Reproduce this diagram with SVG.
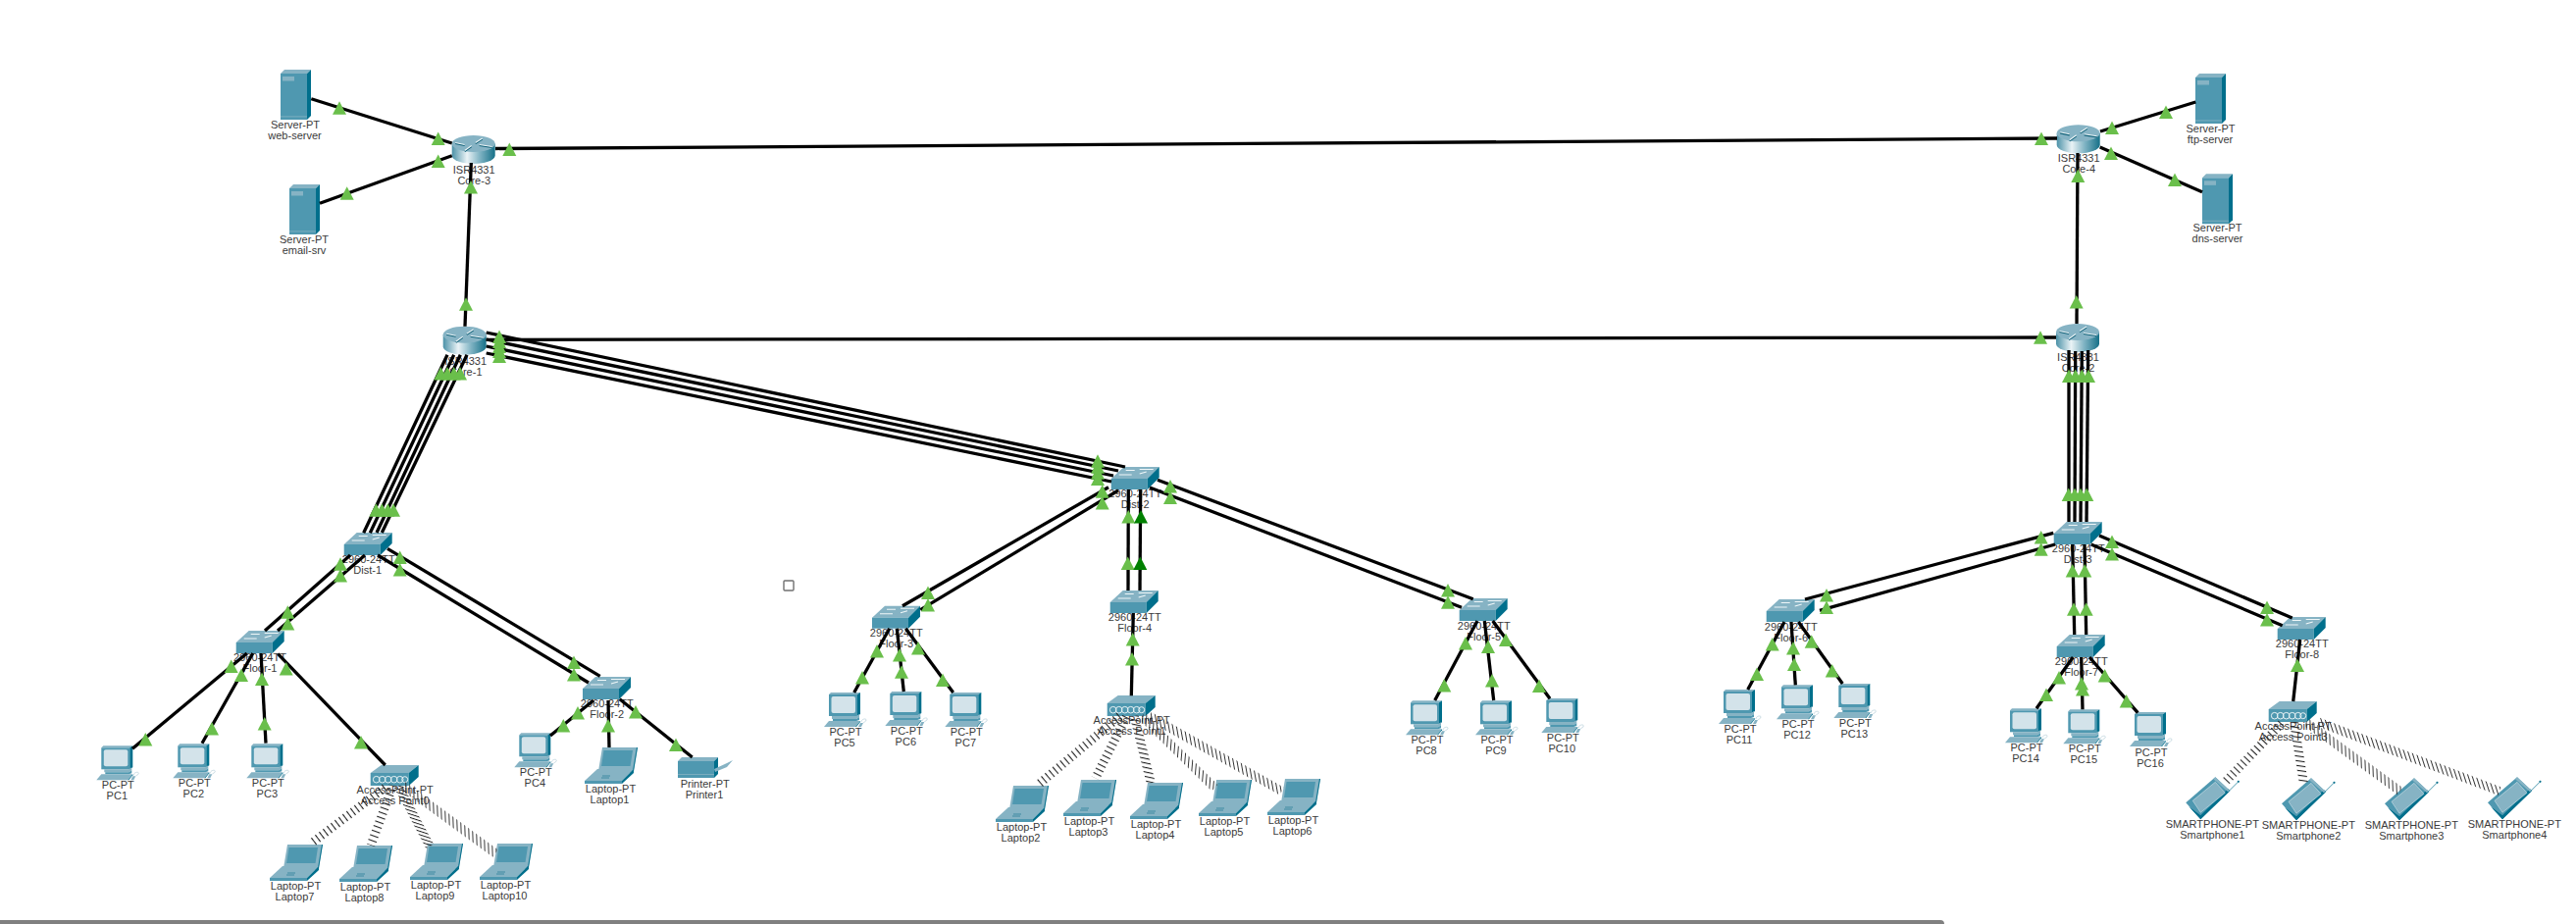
<svg xmlns="http://www.w3.org/2000/svg" xmlns:xlink="http://www.w3.org/1999/xlink" width="2626" height="942" viewBox="0 0 2626 942">
<style>
text{font-family:"Liberation Sans",Arial,sans-serif;font-size:11px;fill:#3a3a3a;text-anchor:middle}
.l{stroke:#000;stroke-width:3.3;fill:none}
.w{stroke-width:9;fill:none}
.top{fill:#86b3c4}.front{fill:#4f98b0}.side{fill:#006f8c}.pale{fill:#d3e3ea}
.wh{stroke:#eef6f8;stroke-width:1.1;fill:none}
.st{fill:#222}
.tri{fill:#6abf4b}.dk{fill:#008000}
</style>
<defs>
<linearGradient id="cyl" x1="0" x2="1" y1="0" y2="0"><stop offset="0" stop-color="#4c92a8"/><stop offset=".35" stop-color="#eaf3f6"/><stop offset=".65" stop-color="#7fb3c3"/><stop offset="1" stop-color="#167088"/></linearGradient>
<pattern id="w53" width="10" height="5" patternUnits="userSpaceOnUse" patternTransform="rotate(53)"><rect class="st" width="10" height="1.1"/></pattern>
<pattern id="w20" width="10" height="5" patternUnits="userSpaceOnUse" patternTransform="rotate(20)"><rect class="st" width="10" height="1.1"/></pattern>
<pattern id="w25" width="10" height="3.4" patternUnits="userSpaceOnUse" patternTransform="rotate(18)"><rect class="st" width="10" height="1"/></pattern>
<pattern id="w70" width="10" height="3.9" patternUnits="userSpaceOnUse" patternTransform="rotate(88)"><rect class="st" width="10" height=".9"/></pattern>
<pattern id="w50" width="10" height="5" patternUnits="userSpaceOnUse" patternTransform="rotate(50)"><rect class="st" width="10" height="1.1"/></pattern>
<pattern id="w27" width="10" height="5" patternUnits="userSpaceOnUse" patternTransform="rotate(27)"><rect class="st" width="10" height="1.1"/></pattern>
<pattern id="w12" width="10" height="4.5" patternUnits="userSpaceOnUse" patternTransform="rotate(12)"><rect class="st" width="10" height="1.1"/></pattern>
<pattern id="w78" width="10" height="3.9" patternUnits="userSpaceOnUse" patternTransform="rotate(95)"><rect class="st" width="10" height=".9"/></pattern>
<pattern id="w65" width="10" height="3.9" patternUnits="userSpaceOnUse" patternTransform="rotate(80)"><rect class="st" width="10" height=".9"/></pattern>
<pattern id="w44" width="10" height="5" patternUnits="userSpaceOnUse" patternTransform="rotate(44)"><rect class="st" width="10" height="1.1"/></pattern>
<pattern id="w8" width="10" height="4.8" patternUnits="userSpaceOnUse" patternTransform="rotate(8)"><rect class="st" width="10" height="1.1"/></pattern>
<pattern id="w68" width="10" height="3.9" patternUnits="userSpaceOnUse" patternTransform="rotate(72)"><rect class="st" width="10" height=".9"/></pattern>
<polygon id="t" points="0,-6.7 7,6.7 -7,6.7"/>
<g id="server">
<polygon class="top" points="0,4 4,0 31,0 27,4"/><rect class="front" y="4" width="27" height="47"/><polygon class="side" points="27,4 31,0 31,47 27,51"/><rect class="top" x="2" y="7" width="12" height="4.5"/><rect class="top" y="47.5" width="27" height=".8"/>
</g>
<g id="router">
<path d="M0 8.5V20.5A22 8.5 0 0 0 44 20.5V8.5Z" fill="url(#cyl)"/><ellipse class="top" cx="22" cy="8.5" rx="22" ry="8.5"/>
<path d="M3.5 7.5L13 9.5M28 9.5L41 11.5M24 7.5L31 3M13 15.5L20 10.5" stroke="#0d5f77" stroke-width="1.6" fill="none" transform="translate(0,.8)"/>
<path class="wh" d="M3.5 7.5L13 9.5M28 9.5L41 11.5M24 7.5L31 3M13 15.5L20 10.5"/>
</g>
<g id="switch">
<polygon class="top" points="0,12 13,0 49,0 37,12"/><rect class="front" y="12" width="37" height="11"/><polygon class="side" points="37,12 49,0 49,11 37,23"/>
<path class="wh" d="M15 3.5H24M29 2.5H43M8 8H21M29 7L36 5"/>
</g>
<g id="ap">
<polygon class="top" points="0,8 11,0 49,0 39,8"/><rect class="front" y="8" width="39" height="13"/><polygon class="side" points="39,8 49,0 49,12 39,21"/>
<g fill="none" stroke="#e8f3f6" stroke-width="1"><circle cx="6" cy="14.7" r="3.3"/><circle cx="12" cy="14.7" r="3.3"/><circle cx="18" cy="14.7" r="3.3"/><circle cx="24" cy="14.7" r="3.3"/><circle cx="30" cy="14.7" r="3.3"/><circle cx="35" cy="14.7" r="3"/></g>
</g>
<g id="pc">
<polygon class="top" points="5,2 7,0 37,0 34,2"/><rect class="front" x="5" y="2" width="29" height="22"/><polygon class="side" points="34,2 37,0 37,22 34,24"/><rect class="pale" x="7.5" y="4" width="24.5" height="17" rx="2"/>
<polygon class="top" points="8,24 33,24 36,22 36,25 33,27 8,27"/><polygon class="front" points="9,27 33,27 36,25 36,28 33,29 9,29"/>
<polygon class="top" points="0,35 5,29 37,29 32,35"/><polygon class="side" points="32,35 37,29 37,30 33,35"/>
<polygon class="top" points="35,35 37,31 40,31 38,35"/><path d="M38 30C38 27 43 26 43 28C43 30 40 30 40 31" fill="none" stroke="#bcd3dc" stroke-width=".8"/>
</g>
<g id="laptop">
<polygon class="top" points="18,0 54,0 50,24 14,24"/><polygon class="side" points="53,0 54,0 50,24 49,24"/><polygon class="front" points="19.5,3 49,3 46.5,19 17,19"/>
<polygon class="top" points="0,34 13,22 50,22 38,34"/><rect class="top" x="14" y="23" width="34" height="3" opacity=".8"/><path d="M18 29H26M17 31H25" stroke="#3f8aa2" stroke-width="1"/>
<polygon class="front" points="0,34 38,34 38,37 0,37"/><polygon class="side" points="38,34 50,22 50,26 38,37"/>
</g>
<g id="printer">
<polygon class="top" points="0,4 4,0 41,0 37,4"/><rect class="front" y="4" width="37" height="17"/><polygon class="side" points="37,4 41,0 41,17 37,21"/><polygon class="top" points="37,12 50,6 56,3 50,10 38,15"/><rect class="top" y="17" width="37" height=".8"/>
</g>
<g id="phone">
<polygon class="front" points="0,26 30,0 45,14 15,43"/><polygon class="side" points="3,30 15,43 45,14 43,12 15,39"/><polygon class="top" points="30,0 45,14 43,15 28,2"/>
<polygon class="top" points="7,24 30,5 40,16 15,36" stroke="#cfe1e8" stroke-width=".6"/>
<path d="M44 14L53 5" stroke="#1f7f99" stroke-width=".8"/><circle cx="53.5" cy="4.5" r="1.1" fill="#006f8c"/>
</g>
</defs>

<g id="web-server" transform="translate(286,71)"><use href="#server"/><text x="15" y="60">Server-PT</text><text x="14.5" y="71">web-server</text></g>
<g id="email-srv" transform="translate(295,188)"><use href="#server"/><text x="15" y="60">Server-PT</text><text x="15" y="71">email-srv</text></g>
<g id="ftp-server" transform="translate(2238,75)"><use href="#server"/><text x="15.5" y="59.5">Server-PT</text><text x="15" y="70.5">ftp-server</text></g>
<g id="dns-server" transform="translate(2245,177.3)"><use href="#server"/><text x="15.5" y="59">Server-PT</text><text x="15.5" y="70">dns-server</text></g>

<g id="core-3" transform="translate(460.7,138)"><use href="#router"/><text x="22.5" y="39">ISR4331</text><text x="22.5" y="50">Core-3</text></g>
<g id="core-1" transform="translate(451.7,332.7)"><use href="#router"/><text x="23" y="39">ISR4331</text><text x="23" y="50">Core-1</text></g>
<g id="core-4" transform="translate(2096.7,127.3)"><use href="#router"/><text x="22.5" y="38">ISR4331</text><text x="22.5" y="49">Core-4</text></g>
<g id="core-2" transform="translate(2096,330)"><use href="#router"/><text x="22.5" y="38">ISR4331</text><text x="22.5" y="49">Core-2</text></g>

<g id="dist-1" transform="translate(350.7,543)"><use href="#switch"/><text x="25" y="31.3">2960-24TT</text><text x="24" y="42.3">Dist-1</text></g>
<g id="dist-2" transform="translate(1132.7,476)"><use href="#switch"/><text x="24.5" y="31">2960-24TT</text><text x="24.5" y="42">Dist-2</text></g>
<g id="dist-3" transform="translate(2093.7,532)"><use href="#switch"/><text x="25" y="31.3">2960-24TT</text><text x="24.5" y="42.3">Dist-3</text></g>
<g id="floor-1" transform="translate(240.7,643)"><use href="#switch"/><text x="24.3" y="31.3">2960-24TT</text><text x="24.3" y="42.3">Floor-1</text></g>
<g id="floor-2" transform="translate(594,690)"><use href="#switch"/><text x="24.7" y="31.3">2960-24TT</text><text x="24.7" y="42.3">Floor-2</text></g>
<g id="floor-3" transform="translate(889,617.7)"><use href="#switch"/><text x="24.7" y="31.6">2960-24TT</text><text x="24.7" y="42.6">Floor-3</text></g>
<g id="floor-4" transform="translate(1131.7,602)"><use href="#switch"/><text x="25" y="31">2960-24TT</text><text x="25" y="42">Floor-4</text></g>
<g id="floor-5" transform="translate(1487.7,610)"><use href="#switch"/><text x="25" y="31.7">2960-24TT</text><text x="25" y="42.7">Floor-5</text></g>
<g id="floor-6" transform="translate(1800.7,611)"><use href="#switch"/><text x="25" y="31.7">2960-24TT</text><text x="25" y="42.7">Floor-6</text></g>
<g id="floor-7" transform="translate(2096.7,647)"><use href="#switch"/><text x="25" y="31.3">2960-24TT</text><text x="25" y="42.3">Floor-7</text></g>
<g id="floor-8" transform="translate(2321.7,629)"><use href="#switch"/><text x="25" y="31.3">2960-24TT</text><text x="25" y="42.3">Floor-8</text></g>

<g id="access-point0" transform="translate(377.7,780)"><use href="#ap"/><text x="25" y="29.3">AccessPoint-PT</text><text x="25" y="40.3">Access Point0</text></g>
<g id="access-point1" transform="translate(1128.7,709)"><use href="#ap"/><text x="25" y="29.3">AccessPoint-PT</text><text x="25" y="40.3">Access Point1</text></g>
<g id="access-point3" transform="translate(2312.7,715)"><use href="#ap"/><text x="25" y="29.3">AccessPoint-PT</text><text x="25" y="40.3">Access Point3</text></g>

<g id="pc1" transform="translate(98.3,760.3)"><use href="#pc"/><text x="22" y="44">PC-PT</text><text x="21" y="55">PC1</text></g>
<g id="pc2" transform="translate(176.3,758.3)"><use href="#pc"/><text x="22" y="44">PC-PT</text><text x="21" y="55">PC2</text></g>
<g id="pc3" transform="translate(251.3,758.3)"><use href="#pc"/><text x="22" y="44">PC-PT</text><text x="21" y="55">PC3</text></g>
<g id="pc4" transform="translate(524.3,747.3)"><use href="#pc"/><text x="22" y="44">PC-PT</text><text x="21" y="55">PC4</text></g>
<g id="pc5" transform="translate(840,706)"><use href="#pc"/><text x="22" y="44">PC-PT</text><text x="21" y="55">PC5</text></g>
<g id="pc6" transform="translate(902.3,705)"><use href="#pc"/><text x="22" y="44">PC-PT</text><text x="21" y="55">PC6</text></g>
<g id="pc7" transform="translate(963.3,706)"><use href="#pc"/><text x="22" y="44">PC-PT</text><text x="21" y="55">PC7</text></g>
<g id="pc8" transform="translate(1433,714.3)"><use href="#pc"/><text x="22" y="44">PC-PT</text><text x="21" y="55">PC8</text></g>
<g id="pc9" transform="translate(1504,714.3)"><use href="#pc"/><text x="22" y="44">PC-PT</text><text x="21" y="55">PC9</text></g>
<g id="pc10" transform="translate(1571.3,712)"><use href="#pc"/><text x="22" y="44">PC-PT</text><text x="21" y="55">PC10</text></g>
<g id="pc11" transform="translate(1752,703)"><use href="#pc"/><text x="22" y="44">PC-PT</text><text x="21" y="55">PC11</text></g>
<g id="pc12" transform="translate(1811,698.3)"><use href="#pc"/><text x="22" y="44">PC-PT</text><text x="21" y="55">PC12</text></g>
<g id="pc13" transform="translate(1869.3,697)"><use href="#pc"/><text x="22" y="44">PC-PT</text><text x="21" y="55">PC13</text></g>
<g id="pc14" transform="translate(2044,722.3)"><use href="#pc"/><text x="22" y="44">PC-PT</text><text x="21" y="55">PC14</text></g>
<g id="pc15" transform="translate(2103.3,723.3)"><use href="#pc"/><text x="22" y="44">PC-PT</text><text x="21" y="55">PC15</text></g>
<g id="pc16" transform="translate(2171,726)"><use href="#pc"/><text x="22" y="45">PC-PT</text><text x="21" y="56">PC16</text></g>

<g id="laptop1" transform="translate(596,762)"><use href="#laptop"/><text x="26.5" y="45.7">Laptop-PT</text><text x="25.5" y="56.7">Laptop1</text></g>
<g id="laptop2" transform="translate(1015,801)"><use href="#laptop"/><text x="26.5" y="45.7">Laptop-PT</text><text x="25.5" y="56.7">Laptop2</text></g>
<g id="laptop3" transform="translate(1084,795)"><use href="#laptop"/><text x="26.5" y="45.7">Laptop-PT</text><text x="25.5" y="56.7">Laptop3</text></g>
<g id="laptop4" transform="translate(1152,798)"><use href="#laptop"/><text x="26.5" y="45.7">Laptop-PT</text><text x="25.5" y="56.7">Laptop4</text></g>
<g id="laptop5" transform="translate(1222,795)"><use href="#laptop"/><text x="26.5" y="45.7">Laptop-PT</text><text x="25.5" y="56.7">Laptop5</text></g>
<g id="laptop6" transform="translate(1292,794)"><use href="#laptop"/><text x="26.5" y="45.7">Laptop-PT</text><text x="25.5" y="56.7">Laptop6</text></g>
<g id="laptop7" transform="translate(275,861)"><use href="#laptop"/><text x="26.5" y="45.7">Laptop-PT</text><text x="25.5" y="56.7">Laptop7</text></g>
<g id="laptop8" transform="translate(346,862)"><use href="#laptop"/><text x="26.5" y="45.7">Laptop-PT</text><text x="25.5" y="56.7">Laptop8</text></g>
<g id="laptop9" transform="translate(418,860)"><use href="#laptop"/><text x="26.5" y="45.7">Laptop-PT</text><text x="25.5" y="56.7">Laptop9</text></g>
<g id="laptop10" transform="translate(489,860)"><use href="#laptop"/><text x="26.5" y="45.7">Laptop-PT</text><text x="25.5" y="56.7">Laptop10</text></g>

<g id="printer1" transform="translate(691,772)"><use href="#printer"/><text x="27.7" y="30.7">Printer-PT</text><text x="27" y="41.7">Printer1</text></g>

<g id="smartphone1" transform="translate(2228.3,792.3)"><use href="#phone"/><text x="27" y="51.5">SMARTPHONE-PT</text><text x="27" y="62.5">Smartphone1</text></g>
<g id="smartphone2" transform="translate(2326,793.3)"><use href="#phone"/><text x="27.3" y="51.5">SMARTPHONE-PT</text><text x="27.3" y="62.5">Smartphone2</text></g>
<g id="smartphone3" transform="translate(2431,793.3)"><use href="#phone"/><text x="27.3" y="51.5">SMARTPHONE-PT</text><text x="27.3" y="62.5">Smartphone3</text></g>
<g id="smartphone4" transform="translate(2536,792.3)"><use href="#phone"/><text x="27.3" y="51.5">SMARTPHONE-PT</text><text x="27.3" y="62.5">Smartphone4</text></g>

<g id="connectors">
<g class="l">
<path d="M317.3 100.7L460.7 146"/>
<path d="M326 207.3L460.7 158.7"/>
<path d="M505 151.5L2097 141"/>
<path d="M480.3 166L474 332.7"/>
<path d="M495.7 346.3L2096 344"/>
<path d="M495.7 339L1147 476"/>
<path d="M495.7 346L1140 480"/>
<path d="M495.7 353L1135 485"/>
<path d="M495.7 360L1133 491"/>
<path d="M456 361.7L370.7 543.3"/>
<path d="M462.7 361.7L377.3 543.3"/>
<path d="M469.3 361.7L384 543"/>
<path d="M476 361.7L389.3 543"/>
<path d="M357 566L270 643"/>
<path d="M372 566L283 643"/>
<path d="M395 559.3L611.7 689.3"/>
<path d="M385 566L600 696"/>
<path d="M135 763.3L251.7 666"/>
<path d="M206 757.7L257.7 666"/>
<path d="M271 757.7L266 666"/>
<path d="M392.7 780L283.3 666.7"/>
<path d="M561 750L605 714"/>
<path d="M621 762L620 714"/>
<path d="M705.7 772L631.7 712.7"/>
<path d="M1130 496.7L920 617.7"/>
<path d="M1140 500L938.3 621.7"/>
<path d="M1150.3 499L1150 602"/>
<path d="M1162.7 499L1162 602"/>
<path d="M1155.3 625L1153.3 709.3"/>
<path d="M1180 489.3L1501.7 610.7"/>
<path d="M1172 497L1490 619.3"/>
<path d="M870.7 706L906.7 640.7"/>
<path d="M921.3 705L914.3 640.7"/>
<path d="M971.7 706L923.3 640.7"/>
<path d="M1462.7 714L1506 633"/>
<path d="M1522.7 714L1513.3 633"/>
<path d="M1580 712.3L1521.7 633"/>
<path d="M2118 156L2117 330"/>
<path d="M2141 134L2238.3 104"/>
<path d="M2140.7 150L2245 195.7"/>
<path d="M2109 357L2109 532"/>
<path d="M2115.7 358L2115 532"/>
<path d="M2122.3 358L2121 532"/>
<path d="M2128.7 357L2127 532"/>
<path d="M2093.3 543.3L1840 611"/>
<path d="M2095 555L1855 622.3"/>
<path d="M2112.7 555L2114.7 647"/>
<path d="M2125 555L2126.7 647"/>
<path d="M2140 546L2336.7 630"/>
<path d="M2131.7 555L2326.7 637.7"/>
<path d="M2344.7 652L2337.7 715"/>
<path d="M1781.7 703L1819 634"/>
<path d="M1830.3 698.3L1826 634"/>
<path d="M1878.3 697L1833.3 634"/>
<path d="M2076 722.3L2113.3 670"/>
<path d="M2123 723.3L2121.7 670"/>
<path d="M2179.3 726.7L2130 670"/>
</g>
<g class="w">
<path stroke="url(#w53)" d="M394.8 801L317 860"/>
<path stroke="url(#w20)" d="M400.5 801L378 861.7"/>
<path stroke="url(#w25)" d="M405.8 801L438.3 863"/>
<path stroke="url(#w70)" d="M410.9 801L505 870"/>
<path stroke="url(#w50)" d="M1141.8 730L1058.3 800"/>
<path stroke="url(#w27)" d="M1148.7 730L1116.7 793.3"/>
<path stroke="url(#w12)" d="M1156.2 730L1173.3 798.3"/>
<path stroke="url(#w78)" d="M1163.9 730L1238.3 803.3"/>
<path stroke="url(#w65)" d="M1171.4 730L1306.7 806.7"/>
<path stroke="url(#w44)" d="M2327.3 736L2267.3 798.3"/>
<path stroke="url(#w8)" d="M2338.6 736L2348.3 798.3"/>
<path stroke="url(#w70)" d="M2350.6 736L2446.7 806.7"/>
<path stroke="url(#w68)" d="M2363.2 736L2548.3 806.7"/>
</g>
<g class="tri">
<use href="#t" x="346" y="110"/><use href="#t" x="446.7" y="141.3"/>
<use href="#t" x="353.7" y="197"/><use href="#t" x="446.7" y="164.3"/>
<use href="#t" x="519.3" y="152.3"/><use href="#t" x="2081" y="141.3"/>
<use href="#t" x="480" y="190.7"/><use href="#t" x="475" y="310"/>
<use href="#t" x="2080" y="344"/>
<use href="#t" x="509" y="343.3"/><use href="#t" x="509" y="348.3"/><use href="#t" x="509" y="353.3"/><use href="#t" x="509" y="358.3"/><use href="#t" x="509" y="363.3"/>
<use href="#t" x="1119" y="470"/><use href="#t" x="1119" y="476"/><use href="#t" x="1119" y="482"/><use href="#t" x="1119" y="488.3"/>
<use href="#t" x="449.3" y="380.7"/><use href="#t" x="456" y="380.7"/><use href="#t" x="462.7" y="380.7"/><use href="#t" x="469" y="380.7"/>
<use href="#t" x="383.3" y="520"/><use href="#t" x="389.3" y="520"/><use href="#t" x="395.3" y="520"/><use href="#t" x="401" y="520"/>
<use href="#t" x="347" y="575"/><use href="#t" x="347" y="586.7"/><use href="#t" x="293.3" y="624"/><use href="#t" x="293.3" y="635.7"/>
<use href="#t" x="407.7" y="568.3"/><use href="#t" x="407.7" y="580.7"/><use href="#t" x="585" y="675.3"/><use href="#t" x="585" y="687.7"/>
<use href="#t" x="148.3" y="753.7"/><use href="#t" x="235.7" y="679.3"/>
<use href="#t" x="216" y="742.7"/><use href="#t" x="246" y="688.3"/>
<use href="#t" x="269.7" y="737.7"/><use href="#t" x="267" y="692.3"/>
<use href="#t" x="368" y="756.7"/><use href="#t" x="291.7" y="681.7"/>
<use href="#t" x="574.3" y="739.7"/><use href="#t" x="589" y="726.7"/>
<use href="#t" x="620" y="739.7"/>
<use href="#t" x="689" y="759.3"/><use href="#t" x="648" y="725.7"/>
<use href="#t" x="1123.7" y="501"/><use href="#t" x="1123.7" y="512.7"/><use href="#t" x="946" y="604.3"/><use href="#t" x="946" y="616.7"/>
<use href="#t" x="1150.3" y="526.7"/><use href="#t" x="1149.7" y="574.3"/>
<use href="#t" class="dk" x="1163" y="526.7"/><use href="#t" class="dk" x="1162.3" y="574.3"/>
<use href="#t" x="1154.7" y="651.7"/><use href="#t" x="1154" y="671.7"/>
<use href="#t" x="1193" y="495.7"/><use href="#t" x="1193" y="507.3"/><use href="#t" x="1476" y="601.7"/><use href="#t" x="1476" y="614"/>
<use href="#t" x="879" y="690.7"/><use href="#t" x="894" y="663.7"/>
<use href="#t" x="919" y="685"/><use href="#t" x="917" y="667.7"/>
<use href="#t" x="961" y="693.3"/><use href="#t" x="936" y="660.7"/>
<use href="#t" x="1472.3" y="698.7"/><use href="#t" x="1494" y="655.7"/>
<use href="#t" x="1521" y="693.7"/><use href="#t" x="1517" y="659.3"/>
<use href="#t" x="1569" y="699.3"/><use href="#t" x="1535" y="652.3"/>
<use href="#t" x="2118.3" y="179.3"/><use href="#t" x="2116.7" y="307.7"/>
<use href="#t" x="2153" y="130.3"/><use href="#t" x="2208" y="114.3"/>
<use href="#t" x="2152" y="156.3"/><use href="#t" x="2217" y="183.3"/>
<use href="#t" x="2109" y="383.3"/><use href="#t" x="2115.7" y="383.3"/><use href="#t" x="2122.3" y="383.3"/><use href="#t" x="2129" y="383.3"/>
<use href="#t" x="2108.7" y="504.3"/><use href="#t" x="2115" y="504.3"/><use href="#t" x="2121" y="504.3"/><use href="#t" x="2127.3" y="504.3"/>
<use href="#t" x="2080.7" y="547.7"/><use href="#t" x="2080.7" y="560"/><use href="#t" x="1862" y="606.7"/><use href="#t" x="1862" y="619.3"/>
<use href="#t" x="2112.7" y="581.7"/><use href="#t" x="2114" y="621"/><use href="#t" x="2125.3" y="581.7"/><use href="#t" x="2126.7" y="621"/>
<use href="#t" x="2153" y="552.3"/><use href="#t" x="2153" y="564.7"/><use href="#t" x="2311" y="619.3"/><use href="#t" x="2311" y="631.7"/>
<use href="#t" x="2342" y="678.3"/>
<use href="#t" x="1791" y="687.3"/><use href="#t" x="1806.7" y="656.7"/>
<use href="#t" x="1829" y="677.3"/><use href="#t" x="1828" y="660.7"/>
<use href="#t" x="1867.7" y="683.7"/><use href="#t" x="1846.7" y="654"/>
<use href="#t" x="2086" y="708.3"/><use href="#t" x="2099" y="690.7"/>
<use href="#t" x="2123" y="702.7"/><use href="#t" x="2122" y="696.7"/>
<use href="#t" x="2167.7" y="714.7"/><use href="#t" x="2145.7" y="688.7"/>
</g>
</g>
<rect x="799" y="592" width="10" height="10" rx="1" fill="none" stroke="#707070" stroke-width="1.4"/>
<rect x="-6" y="938" width="1988" height="8" rx="4" fill="#808080"/>
</svg>
